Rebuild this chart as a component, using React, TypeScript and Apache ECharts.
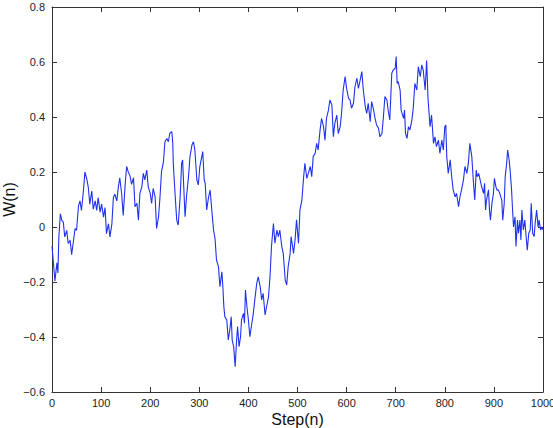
import React, { useEffect, useRef } from "react";
import * as echarts from "echarts";

const steps: number[] = [
  0, 6, 10, 12, 14, 17, 20, 23, 26, 30, 33, 37, 40, 43, 47, 50, 54, 57, 60, 64, 67, 71, 74, 77, 81, 84, 88, 91, 94, 98,
  101, 105, 108, 111, 115, 118, 122, 125, 128, 132, 135, 138, 142, 145, 149, 152, 155, 159, 162, 166,
  169, 173, 176, 179, 183, 186, 189, 193, 196, 200, 203, 206, 210, 213, 217, 220, 223, 227, 230, 234, 237, 240, 244, 246, 247,
  251, 254, 257, 261, 264, 266, 268, 271, 274, 278, 281, 285, 288, 291, 295, 298, 301, 307, 310, 312, 315, 319, 322, 326, 329, 332,
  335, 339, 342, 346, 348, 350, 352, 356, 359, 363, 365, 367, 370, 373, 376, 378, 381, 384, 386, 390, 392, 394, 397, 400,
  403, 407, 410, 413, 417, 420, 424, 427, 430, 434, 437, 441, 444, 447, 451, 454, 458, 461, 464, 468, 471, 475, 478, 481, 485, 487,
  492, 495, 498, 502, 505, 509, 512, 515,
  519, 522, 526, 529, 532, 536, 539, 542, 546, 549, 553, 556, 559, 563, 566, 570, 573, 576, 580, 583, 587, 590, 593, 597, 600,
  604, 607, 610, 614, 617, 621, 624, 627, 631, 634, 638, 641, 644, 648, 651, 655, 658, 661, 665, 668, 672, 675, 678, 682, 685,
  688, 692, 695, 699, 701, 703, 705, 709, 711, 716, 718, 720, 723, 726, 729, 733, 736, 739, 743, 746, 750, 753, 756, 760, 763,
  766, 770, 773, 777, 780, 783, 787, 790, 794, 797, 800, 802, 804, 807, 811, 814, 817, 821, 824, 828, 831, 834, 838, 841, 845,
  848, 851, 855, 858, 861, 864, 866, 869, 872, 875, 879, 881, 883, 885, 889, 891, 893, 896, 899, 901, 904, 906, 909, 912, 916,
  918, 921, 923, 926, 928, 931, 933, 936, 938, 940, 943, 945, 948, 950, 953, 955, 957, 960, 963, 965, 968, 971, 974, 976, 979,
  982, 984, 987, 990, 992, 995, 998, 1000,
];

const values: number[] = [
  -0.07, -0.196, -0.13, -0.167, -0.036, 0.048, 0.024, 0.018, -0.036, -0.012, -0.06, -0.048, -0.101, -0.06, -0.006, -0.012, 0.077, 0.095, 0.06, 0.131, 0.2, 0.173, 0.143, 0.083, 0.131, 0.065, 0.095, 0.06, 0.107, 0.054,
  0.083, 0.036, 0.071, -0.024, 0.012, -0.036, 0.012, 0.107, 0.119, 0.095, 0.143, 0.179, 0.119, 0.042, 0.155, 0.22, 0.202, 0.185, 0.155, 0.179,
  0.074, 0.086, 0.025, 0.122, 0.146, 0.195, 0.171, 0.207, 0.146, 0.122, 0.086, 0.14, 0.11, -0.005, 0.037, 0.11, 0.201, 0.237, 0.31, 0.322, 0.31, 0.341, 0.347, 0.304, 0.231,
  0.11, 0.025, 0.007, 0.11, 0.231, 0.244, 0.159, 0.037, 0.11, 0.183, 0.256, 0.298, 0.31, 0.28, 0.171, 0.153, 0.219, 0.274, 0.171, 0.159, 0.062, 0.11, 0.134, 0.05, -0.011, -0.041,
  -0.12, -0.144, -0.217, -0.163, -0.217, -0.29, -0.326, -0.338, -0.411, -0.362, -0.326, -0.411, -0.435, -0.508, -0.411, -0.362, -0.435, -0.399, -0.338, -0.314, -0.35, -0.229, -0.29, -0.338,
  -0.399, -0.35, -0.314, -0.265, -0.205, -0.181, -0.217, -0.265, -0.241, -0.32, -0.29, -0.253, -0.181, -0.071, 0.013, -0.059, -0.011, -0.035, -0.011, -0.071, -0.096, -0.193, -0.211, -0.144, -0.096, -0.035,
  -0.096, -0.047, 0.026, -0.059, 0.062, 0.098, 0.171, 0.232,
  0.177, 0.195, 0.22, 0.183, 0.256, 0.268, 0.304, 0.28, 0.353, 0.395, 0.365, 0.316, 0.395, 0.425, 0.462, 0.444, 0.328, 0.377, 0.407, 0.34, 0.365, 0.42, 0.498, 0.547, 0.504,
  0.468, 0.462, 0.432, 0.45, 0.51, 0.541, 0.504, 0.529, 0.565, 0.498, 0.438, 0.413, 0.45, 0.383, 0.456, 0.425, 0.395, 0.371, 0.359, 0.328, 0.34, 0.401, 0.474, 0.462, 0.42,
  0.389, 0.559, 0.571, 0.577, 0.62, 0.522, 0.529, 0.498, 0.425, 0.395, 0.425, 0.34, 0.322, 0.365, 0.353, 0.389, 0.437, 0.522, 0.498, 0.583, 0.547, 0.589, 0.571, 0.498, 0.605,
  0.462, 0.365, 0.407, 0.304, 0.328, 0.292, 0.316, 0.268, 0.316, 0.28, 0.365, 0.371, 0.256, 0.195, 0.244, 0.183, 0.135, 0.11, 0.122, 0.074, 0.11, 0.135, 0.171, 0.22, 0.195,
  0.232, 0.304, 0.256, 0.171, 0.098, 0.207, 0.183, 0.195, 0.171, 0.147, 0.122, 0.159, 0.062, 0.098, 0.135, 0.062, 0.025, 0.086, 0.122, 0.177, 0.147, 0.135, 0.135, 0.122, 0.098,
  0.025, 0.086, 0.183, 0.232, 0.28, 0.244, 0.207, 0.135, 0.062, 0.0, 0.037, -0.071, 0.025, -0.023, 0.025, -0.047, 0.062, -0.011, 0.025, -0.023, -0.084, -0.023, -0.011, 0.086, -0.023,
  -0.035, 0.013, 0.062, 0.0, 0.025, -0.011, 0.0, -0.01,
];

const xTicks = { min: 0, max: 1000, interval: 100 };
const yTicks = { min: -0.6, max: 0.8, interval: 0.2 };

const FONT = "'Liberation Sans', Arial, sans-serif";

function fmtY(v: number): string {
  const r = Math.round(v * 10) / 10;
  if (Math.abs(r) < 1e-9) return "0";
  const s = Math.abs(r).toFixed(1);
  return r < 0 ? "\u2212" + s : s;
}

function fmtX(v: number): string {
  return String(Math.round(v));
}

export default function App() {
  const ref = useRef<HTMLDivElement>(null);
  useEffect(() => {
    if (!ref.current) return;
    const chart = echarts.init(ref.current, undefined, { renderer: "svg" });
    const n = Math.min(steps.length, values.length);
    const data: [number, number][] = [];
    for (let i = 0; i < n; i++) data.push([steps[i], values[i]]);
    const axisLine = { show: true, onZero: false, lineStyle: { color: "#333", width: 1 } };
    const tick = { show: true, inside: true, length: 5, lineStyle: { color: "#333", width: 1 } };
    chart.setOption({
      animation: false,
      backgroundColor: "#ffffff",
      grid: { left: 52, right: 10, top: 7, bottom: 36, containLabel: false, outerBoundsMode: "none" },
      xAxis: [
        {
          type: "value",
          ...xTicks,
          name: "Step(n)",
          nameLocation: "middle",
          nameGap: 19,
          nameMoveOverlap: false,
          nameTextStyle: { fontSize: 16, color: "#111", fontFamily: FONT },
          axisLine,
          axisTick: tick,
          splitLine: { show: false },
          axisLabel: { fontSize: 11, color: "#222", fontFamily: FONT, margin: 5, formatter: fmtX },
        },
        {
          type: "value",
          ...xTicks,
          position: "top",
          axisLine,
          axisTick: tick,
          splitLine: { show: false },
          axisLabel: { show: false },
        },
      ],
      yAxis: [
        {
          type: "value",
          ...yTicks,
          name: "W(n)",
          nameLocation: "middle",
          nameGap: 35,
          nameMoveOverlap: false,
          nameTextStyle: { fontSize: 16, color: "#111", fontFamily: FONT },
          axisLine,
          axisTick: tick,
          splitLine: { show: false },
          axisLabel: { fontSize: 11, color: "#222", fontFamily: FONT, margin: 7, formatter: fmtY },
        },
        {
          type: "value",
          ...yTicks,
          position: "right",
          axisLine,
          axisTick: tick,
          splitLine: { show: false },
          axisLabel: { show: false },
        },
      ],
      series: [
        {
          type: "line",
          data,
          xAxisIndex: 0,
          yAxisIndex: 0,
          showSymbol: false,
          symbol: "none",
          lineStyle: { color: "#1f32ee", width: 1.1 },
        },
      ],
    });
    return () => chart.dispose();
  }, []);
  return (
    <div
      ref={ref}
      style={{ position: "absolute", left: 0, top: 0, width: 553, height: 428 }}
    />
  );
}
